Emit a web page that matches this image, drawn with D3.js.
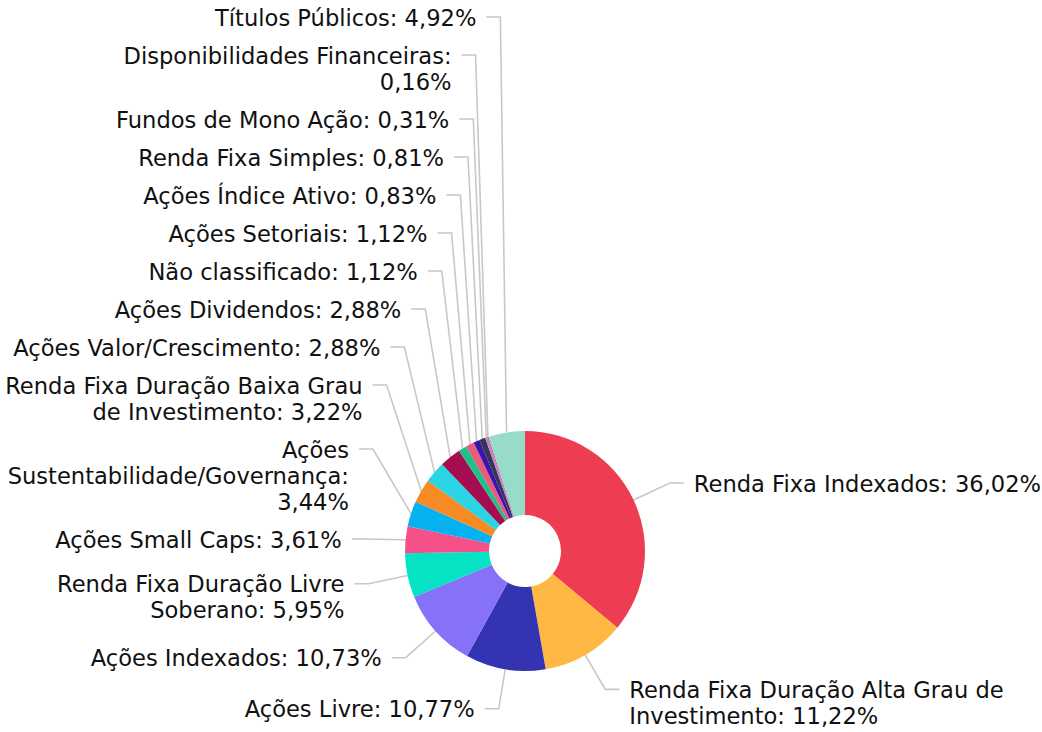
<!DOCTYPE html>
<head>
    <meta charset="utf-8">
    <title>Composição da carteira</title>
    <style>
        body { margin: 0; background: #fff; }
        text { font-family: "DejaVu Sans", Verdana, sans-serif; font-size: 22.6px; fill: #111; }
        .connector { fill: none; stroke: #c8c8c8; stroke-width: 1.6; }
    </style>
</head>

<body>

<svg width="1042" height="732"></svg>

<script src="https://cdn.jsdelivr.net/npm/d3@7"></script>

<script>
    // slices, clockwise from 12 o'clock
    const categories = [
        "Renda Fixa Indexados",
        "Renda Fixa Duração Alta Grau de\nInvestimento",
        "Ações Livre",
        "Ações Indexados",
        "Renda Fixa Duração Livre\nSoberano",
        "Ações Small Caps",
        "Ações\nSustentabilidade/Governança",
        "Renda Fixa Duração Baixa Grau\nde Investimento",
        "Ações Valor/Crescimento",
        "Ações Dividendos",
        "Não classificado",
        "Ações Setoriais",
        "Ações Índice Ativo",
        "Renda Fixa Simples",
        "Fundos de Mono Ação",
        "Disponibilidades Financeiras",
        "Títulos Públicos"
    ];
    const values = [36.02, 11.22, 10.77, 10.73, 5.95, 3.61, 3.44, 3.22, 2.88, 2.88, 1.12, 1.12, 0.83, 0.81, 0.31, 0.16, 4.92];
    const colors = ["#ee3d53", "#ffb844", "#3434b3", "#8672f9", "#06e2c4", "#f5508a", "#06b1ef", "#f68b26",
        "#29d4e3", "#a50d50", "#1fbf8a", "#e85b7b", "#3c12b0", "#383654", "#c27ee8", "#d9534f", "#97dccb"];
    // labels whose value goes on its own line
    const wrapBeforeValue = ["Disponibilidades Financeiras", "Ações\nSustentabilidade/Governança"];

    const svg = d3.select("svg");
    const cx = 525, cy = 551;
    const outerR = 120, innerR = 36, labelR = 160;
    const lineH = 26, pad = 12, minTop = 4, maxBottom = 731;

    const fmt = v => d3.format(".2f")(v).replace(".", ",") + "%";

    const data = categories.map((c, i) => ({ name: c, value: values[i], color: colors[i] }));

    const pie = d3.pie().sort(null).value(d => d.value);
    const arc = d3.arc().innerRadius(innerR).outerRadius(outerR);
    const arcs = pie(data);

    const g = svg.append("g")
        .attr("transform", `translate(${cx},${cy})`);

    // label boxes at their natural height, then pushed apart
    const labels = arcs.map(d => {
        const a = (d.startAngle + d.endAngle) / 2;
        const sep = wrapBeforeValue.includes(d.data.name) ? "\n" : " ";
        const lines = (d.data.name + ":" + sep + fmt(d.data.value)).split("\n");
        return { a, lines, left: Math.sin(a) < 0, y: -labelR * Math.cos(a), h: lines.length * lineH };
    });

    function layout(side) {
        side.sort((p, q) => p.y - q.y);
        const n = side.length;
        for (let i = n - 1; i >= 0; i--) {
            const limit = i === n - 1 ? maxBottom - cy - side[i].h : side[i + 1].top - pad - side[i].h;
            side[i].top = Math.min(side[i].y - lineH / 2, limit);
        }
        for (let i = 0; i < n; i++) {
            const limit = i === 0 ? minTop - cy : side[i - 1].top + side[i - 1].h + pad;
            side[i].top = Math.max(side[i].top, limit);
        }
        side.forEach(l => l.ly = l.top + lineH / 2);
    }
    layout(labels.filter(l => l.left));
    layout(labels.filter(l => !l.left));

    g.selectAll(".connector")
        .data(labels)
        .enter().append("path")
        .attr("class", "connector")
        .attr("d", l => {
            const s = l.left ? -1 : 1;
            const ex = labelR * Math.sin(l.a);
            return `M${ex + s * 14},${l.ly}L${ex},${l.ly}L${outerR * Math.sin(l.a)},${-outerR * Math.cos(l.a)}`;
        });

    g.selectAll(".slice")
        .data(arcs)
        .enter().append("path")
        .attr("class", "slice")
        .attr("d", arc)
        .style("fill", d => d.data.color);

    const text = g.selectAll(".label")
        .data(labels)
        .enter().append("text")
        .attr("class", "label")
        .attr("text-anchor", l => l.left ? "end" : "start");

    text.selectAll("tspan")
        .data(l => l.lines.map((t, i) => ({ t, i, l })))
        .enter().append("tspan")
        .attr("x", d => labelR * Math.sin(d.l.a) + (d.l.left ? -24 : 24))
        .attr("y", d => d.l.ly + d.i * lineH)
        .attr("dy", "0.38em")
        .text(d => d.t);

</script>

</body>
